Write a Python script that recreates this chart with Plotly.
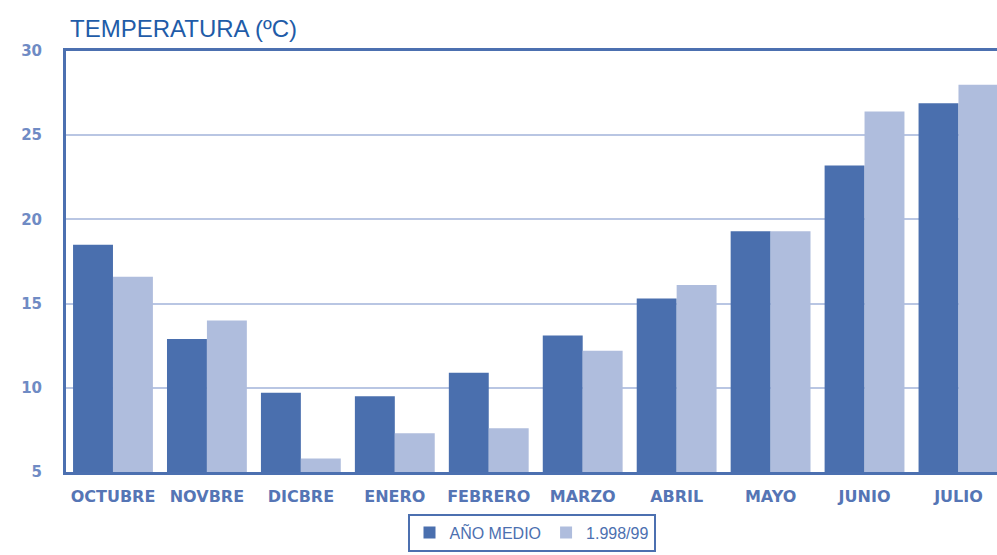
import plotly.graph_objects as go

months = ["OCTUBRE", "NOVBRE", "DICBRE", "ENERO", "FEBRERO",
          "MARZO", "ABRIL", "MAYO", "JUNIO", "JULIO"]
ano_medio = [18.5, 12.9, 9.7, 9.5, 10.9, 13.1, 15.3, 19.3, 23.2, 26.9]
temporada = [16.6, 14.0, 5.8, 7.3, 7.6, 12.2, 16.1, 19.3, 26.4, 28.0]
y_ticks = [5, 10, 15, 20, 25, 30]

DARK = "#4A6FAE"
LIGHT = "#AFBDDD"
AXIS = "#4C70B0"
GRID = "#B9C6E3"
TEXT = "#5575B5"

fig = go.Figure()
fig.add_trace(go.Bar(x=months, y=ano_medio, name="AÑO MEDIO",
                     marker=dict(color=DARK, line=dict(width=0))))
fig.add_trace(go.Bar(x=months, y=temporada, name="1.998/99",
                     marker=dict(color=LIGHT, line=dict(width=0))))

fig.update_layout(
    width=997, height=555,
    margin=dict(l=66, r=0, t=51, b=83),
    paper_bgcolor="white", plot_bgcolor="white",
    barmode="group", bargap=0.15, bargroupgap=0,
    font=dict(family="DejaVu Sans", color=TEXT),
    xaxis=dict(
        type="category", range=[-0.5, 9.41],
        showline=True, linecolor=AXIS, linewidth=3, mirror=True,
        showgrid=False, ticks="outside", ticklen=8, tickcolor="rgba(0,0,0,0)",
        tickfont=dict(family="DejaVu Sans", size=16, color=TEXT, weight="bold"),
    ),
    yaxis=dict(
        range=[5, 30], tickvals=y_ticks,
        showline=True, linecolor=AXIS, linewidth=3,
        showgrid=True, gridcolor=GRID, gridwidth=2,
        zeroline=False,
        ticks="outside", ticklen=18, tickcolor="rgba(0,0,0,0)",
        tickfont=dict(family="DejaVu Sans", size=15, color="#6F8BC4", weight="bold"),
    ),
    legend=dict(
        orientation="h", x=0.5, xanchor="center",
        yref="container", y=0.006, yanchor="bottom",
        bordercolor=AXIS, borderwidth=2, bgcolor="white",
        font=dict(family="Liberation Sans", size=16, color=AXIS),
        itemwidth=30, tracegroupgap=0,
    ),
    annotations=[dict(
        text="TEMPERATURA (ºC)", xref="paper", yref="paper",
        x=0, y=1, xanchor="left", yanchor="bottom", xshift=2, yshift=7,
        showarrow=False,
        font=dict(family="Liberation Sans", size=24, color="#1F5CA8"),
    )],
)

fig.write_html("out.html")
